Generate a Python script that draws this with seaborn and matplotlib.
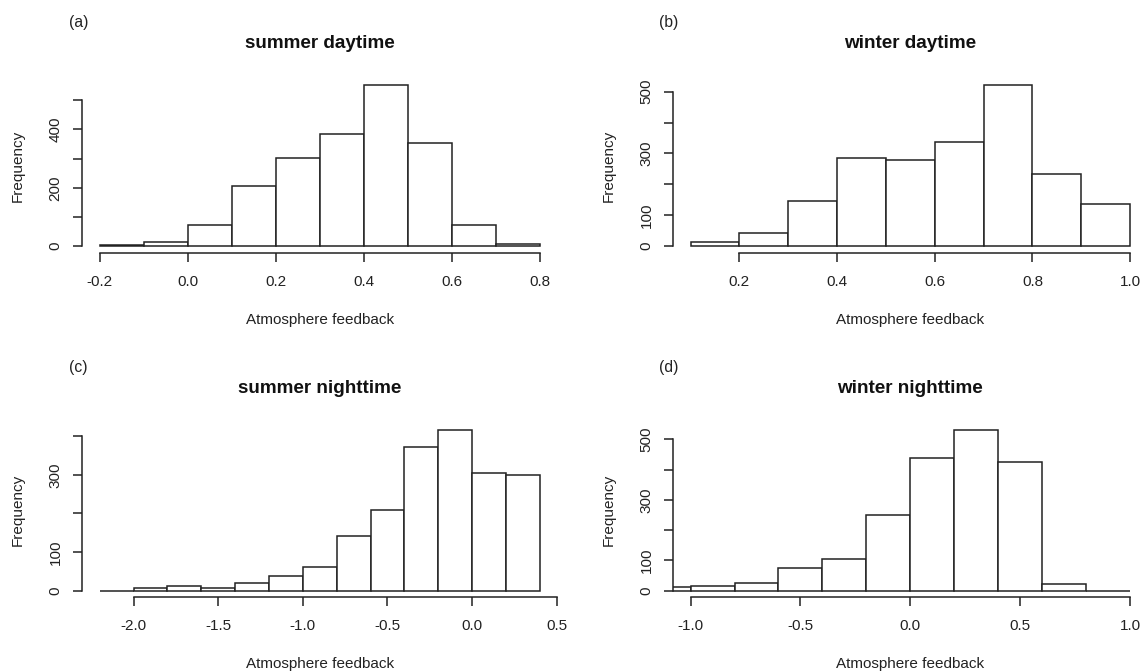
import numpy as np
import pandas as pd
import matplotlib
matplotlib.use("Agg")
import matplotlib.pyplot as plt
import seaborn as sns

# ---- histogram data: bin edges and counts per panel ----
edges_a = [-0.2, -0.1, 0.0, 0.1, 0.2, 0.3, 0.4, 0.5, 0.6, 0.7, 0.8]
counts_a = [3, 15, 71, 206, 302, 386, 551, 355, 71, 8]

edges_b = [0.1, 0.2, 0.3, 0.4, 0.5, 0.6, 0.7, 0.8, 0.9, 1.0]
counts_b = [14, 41, 147, 285, 278, 336, 520, 234, 135]

edges_c = [-2.2, -2.0, -1.8, -1.6, -1.4, -1.2, -1.0, -0.8, -0.6, -0.4, -0.2, 0.0, 0.2, 0.4]
counts_c = [0, 8, 11, 6, 20, 37, 61, 141, 210, 373, 416, 305, 299]

edges_d = [-1.2, -1.0, -0.8, -0.6, -0.4, -0.2, 0.0, 0.2, 0.4, 0.6, 0.8, 1.0]
counts_d = [11, 15, 24, 75, 105, 251, 437, 531, 424, 23, 0]

titles = ["summer daytime", "winter daytime", "summer nighttime", "winter nighttime"]
panel_tags = ["(a)", "(b)", "(c)", "(d)"]

xticks_a = [-0.2, 0.0, 0.2, 0.4, 0.6, 0.8]
xticks_b = [0.2, 0.4, 0.6, 0.8, 1.0]
xticks_c = [-2.0, -1.5, -1.0, -0.5, 0.0, 0.5]
xticks_d = [-1.0, -0.5, 0.0, 0.5, 1.0]

yticks_a = [0, 100, 200, 300, 400, 500]
ylabels_a = ["0", "", "200", "", "400", ""]
yticks_b = [0, 100, 200, 300, 400, 500]
ylabels_b = ["0", "100", "", "300", "", "500"]
yticks_c = [0, 100, 200, 300, 400]
ylabels_c = ["0", "100", "", "300", ""]
yticks_d = [0, 100, 200, 300, 400, 500]
ylabels_d = ["0", "100", "", "300", "", "500"]

x_label = "Atmosphere feedback"
y_label = "Frequency"

# ---- styling ----
sns.set_style("ticks")
plt.rcParams["font.family"] = ["Liberation Sans", "DejaVu Sans"]
plt.rcParams["axes.edgecolor"] = "#222222"

W, H = 1145, 672
fig = plt.figure(figsize=(W / 100, H / 100), dpi=100)
fig.patch.set_facecolor("white")


def axes_box(left, top, right, bottom):
    return [left / W, 1 - bottom / H, (right - left) / W, (bottom - top) / H]


boxes = [
    axes_box(82.2, 79.0, 557.6, 252.6),
    axes_box(673.0, 79.0, 1147.7, 252.6),
    axes_box(82.2, 423.5, 557.4, 597.1),
    axes_box(673.0, 423.5, 1147.7, 597.1),
]

panels = [
    (edges_a, counts_a, xticks_a, yticks_a, ylabels_a, None),
    (edges_b, counts_b, xticks_b, yticks_b, ylabels_b, None),
    (edges_c, counts_c, xticks_c, yticks_c, ylabels_c, None),
    (edges_d, counts_d, xticks_d, yticks_d, ylabels_d, (-1.0, 1.0)),
]

base_fs = 11
line_col = "#222222"
text_col = "#222222"

for i, (edges, counts, xt, yt, ylab, xrange_fixed) in enumerate(panels):
    ax = fig.add_axes(boxes[i])
    mids = [(a + b) / 2 for a, b in zip(edges[:-1], edges[1:])]
    df = pd.DataFrame({"value": mids, "count": counts})

    sns.histplot(
        data=df, x="value", weights="count", bins=list(edges), ax=ax,
        stat="count", element="bars", fill=True,
        facecolor="white", edgecolor=line_col, linewidth=1.1,
    )

    # R-style axis extents: 4% padding around the data range
    lo, hi = xrange_fixed if xrange_fixed else (edges[0], edges[-1])
    pad = 0.04 * (hi - lo)
    ax.set_xlim(lo - pad, hi + pad)
    top = max(counts)
    ax.set_ylim(-0.04 * top, 1.04 * top)

    ax.set_xticks(xt)
    ax.set_xticklabels([f"{v:.1f}" for v in xt])
    ax.set_yticks(yt)
    ax.set_yticklabels(ylab)

    for side in ("top", "right"):
        ax.spines[side].set_visible(False)
    ax.spines["left"].set_bounds(yt[0], yt[-1])
    ax.spines["bottom"].set_bounds(xt[0], xt[-1])
    for side in ("left", "bottom"):
        ax.spines[side].set_linewidth(1.1)
        ax.spines[side].set_color(line_col)

    ax.tick_params(axis="both", direction="out", length=6.5, width=1.1,
                   color=line_col, labelsize=base_fs, labelcolor=text_col)
    ax.tick_params(axis="x", pad=9.6)
    ax.tick_params(axis="y", pad=7.6, labelrotation=90)
    for lab in ax.get_yticklabels():
        lab.set_va("center")

    ax.set_xlabel(x_label, fontsize=base_fs, color=text_col)
    ax.xaxis.set_label_coords(0.5, -0.347)
    ax.set_ylabel(y_label, fontsize=base_fs, color=text_col)
    ax.yaxis.set_label_coords(-0.121, 0.5)

    ax.set_title(titles[i], fontsize=13.6, fontweight="bold", pad=22, color="#111111")

    pos = boxes[i]
    fig.text(pos[0] - 4 / W, pos[1] + pos[3] + (79.0 - 23.0) / H, panel_tags[i],
             ha="center", va="center", fontsize=11.3, color=text_col)

fig.savefig("out.png", dpi=100, facecolor="white")
